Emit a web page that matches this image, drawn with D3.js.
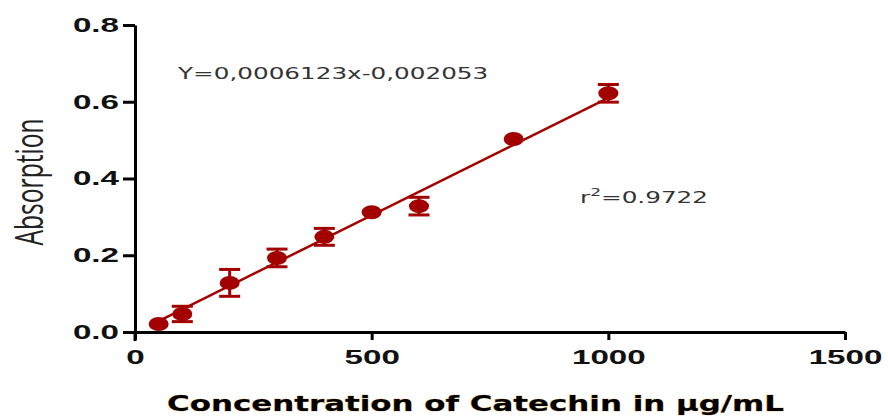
<!DOCTYPE html>
<html><head><meta charset="utf-8">
<script src="https://cdn.jsdelivr.net/npm/d3@7"></script>
<style>body{margin:0;background:#fff}svg{display:block}</style>
</head><body>
<svg id="c" width="888" height="419"></svg>
<script>
const concentrations = [50, 100, 200, 300, 400, 500, 600, 800, 1000];
const absorbance     = [0.021, 0.047, 0.128, 0.193, 0.248, 0.312, 0.328, 0.503, 0.622];
const errors         = [0.0, 0.02, 0.035, 0.023, 0.022, 0.0, 0.023, 0.0, 0.023];
const xTicks = [0, 500, 1000, 1500];
const yTicks = [0.0, 0.2, 0.4, 0.6, 0.8];
const slope = 0.0006123, intercept = -0.002053;
const fitRange = [50, 1000];
const eqLabel = "Y=0,0006123x-0,002053";
const r2Value = "0.9722";
const xTitle = "Concentration of Catechin in \u00b5g/mL";
const yTitle = "Absorption";

const svg = d3.select("#c");
const red = "#a30000";
const STRETCH = 1.7;
const x = d3.scaleLinear().domain([0, 1500]).range([135, 845]);
const y = d3.scaleLinear().domain([0, 0.8]).range([332, 25]);

const xAxis = svg.append("g").attr("transform", "translate(0,332)")
  .call(d3.axisBottom(x).tickValues(xTicks).tickFormat(d3.format("d")).tickSize(8).tickSizeOuter(0).tickPadding(10));
const yAxis = svg.append("g").attr("transform", "translate(135,0)")
  .call(d3.axisLeft(y).tickValues(yTicks).tickFormat(d3.format(".1f")).tickSize(12).tickSizeOuter(0).tickPadding(4));
[xAxis, yAxis].forEach(a => {
  a.select(".domain").attr("stroke", "#000").attr("stroke-width", 3);
  a.selectAll(".tick line").attr("stroke", "#000").attr("stroke-width", 3);
  a.selectAll(".tick text").attr("fill", "#111").attr("font-family", "Liberation Sans, Arial, sans-serif")
    .attr("font-weight", "bold").attr("font-size", 19.5)
    .each(function() {
      const w = this.getComputedTextLength();
      d3.select(this).attr("textLength", w * STRETCH).attr("lengthAdjust", "spacingAndGlyphs");
    });
});
svg.append("line").attr("x1", 135).attr("x2", 135).attr("y1", 332).attr("y2", 341).attr("stroke", "#000").attr("stroke-width", 3);

// fit line
svg.append("line")
  .attr("x1", x(fitRange[0])).attr("y1", y(slope * fitRange[0] + intercept))
  .attr("x2", x(fitRange[1])).attr("y2", y(slope * fitRange[1] + intercept))
  .attr("stroke", red).attr("stroke-width", 2.5);

const data = concentrations.map((c, i) => ({c, a: absorbance[i], e: errors[i]}));
const g = svg.append("g");
const eb = g.selectAll(".eb").data(data.filter(d => d.e > 0)).join("g");
eb.append("line").attr("x1", d => x(d.c)).attr("x2", d => x(d.c))
  .attr("y1", d => y(d.a - d.e)).attr("y2", d => y(d.a + d.e)).attr("stroke", red).attr("stroke-width", 3);
eb.append("line").attr("x1", d => x(d.c) - 10.5).attr("x2", d => x(d.c) + 10.5)
  .attr("y1", d => y(d.a + d.e)).attr("y2", d => y(d.a + d.e)).attr("stroke", red).attr("stroke-width", 3);
eb.append("line").attr("x1", d => x(d.c) - 10.5).attr("x2", d => x(d.c) + 10.5)
  .attr("y1", d => y(d.a - d.e)).attr("y2", d => y(d.a - d.e)).attr("stroke", red).attr("stroke-width", 3);
g.selectAll("ellipse").data(data).join("ellipse")
  .attr("cx", d => x(d.c)).attr("cy", d => y(d.a)).attr("rx", 10).attr("ry", 7).attr("fill", red);

// annotations
function stretchTo(sel, x0, yb, width) {
  const bb = sel.node().getBBox();
  sel.attr("transform", `translate(${x0},${yb}) scale(${width / bb.width},1)`);
}
const eq = svg.append("text").attr("font-family", "DejaVu Sans, sans-serif")
  .attr("font-size", 15).attr("fill", "#333").text(eqLabel);
stretchTo(eq, 178, 79, 312);
const r2 = svg.append("text").attr("font-family", "DejaVu Sans, sans-serif")
  .attr("font-size", 16).attr("fill", "#333");
r2.append("tspan").text("r");
r2.append("tspan").attr("dy", -7).attr("font-size", 11).text("2");
r2.append("tspan").attr("dy", 7).text("=" + r2Value);
stretchTo(r2, 580, 203, 128);

// axis titles
svg.append("text").attr("transform", `translate(43,182) scale(${STRETCH},1) rotate(-90)`).attr("text-anchor", "middle")
  .attr("font-family", "Open Sans, sans-serif").attr("font-size", 22).attr("fill", "#222")
  .attr("textLength", 127).attr("lengthAdjust", "spacingAndGlyphs").text(yTitle);
svg.append("text").attr("x", 167).attr("y", 411)
  .attr("font-family", "DejaVu Sans, sans-serif").attr("font-weight", "bold").attr("font-size", 21)
  .attr("fill", "#000").attr("stroke", "#e0a040").attr("stroke-width", 0.6).attr("paint-order", "stroke")
  .attr("textLength", 617).attr("lengthAdjust", "spacingAndGlyphs").text(xTitle);
</script>
</body></html>
